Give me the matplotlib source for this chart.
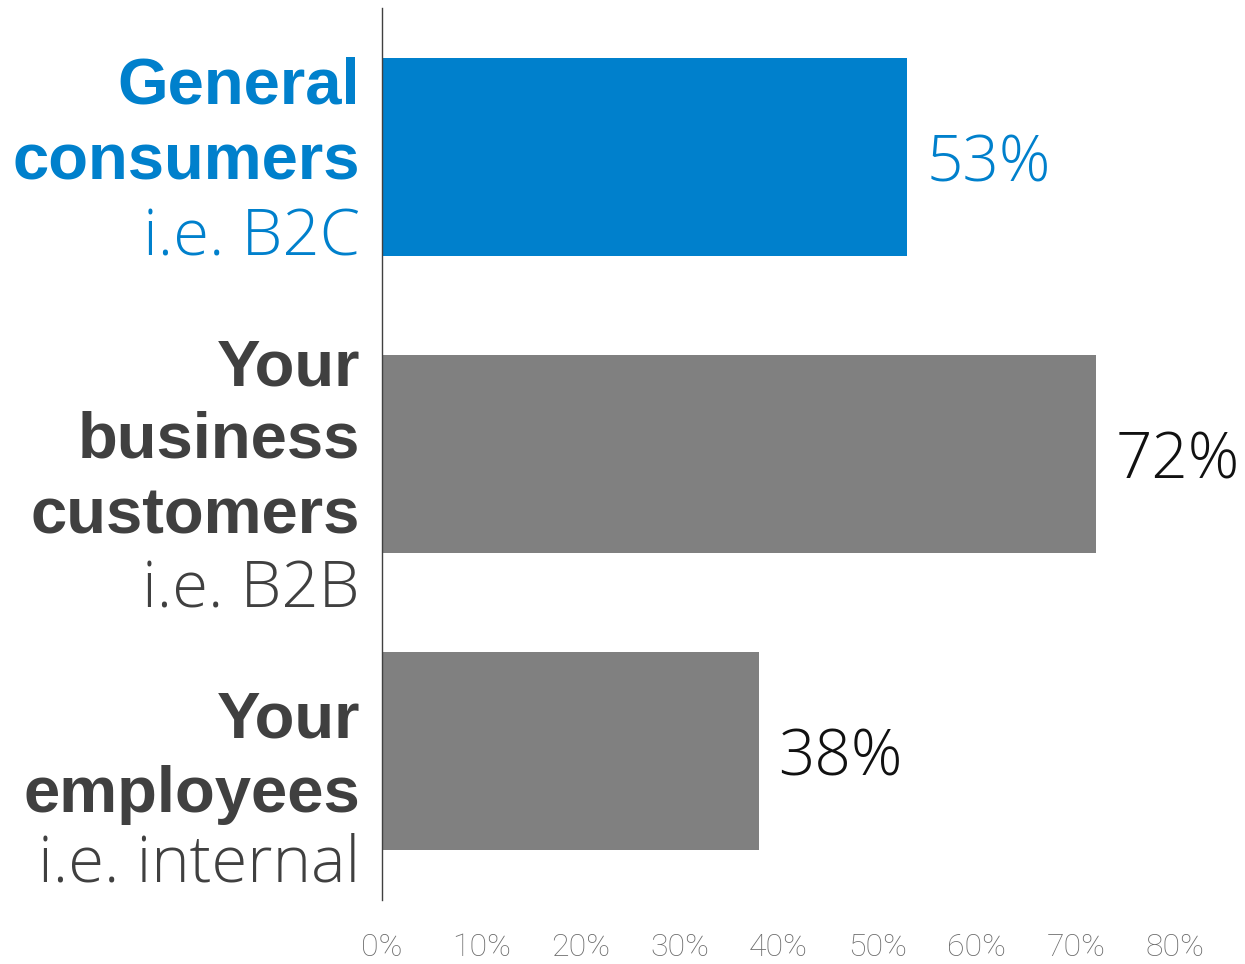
import matplotlib
matplotlib.use("Agg")
import matplotlib.pyplot as plt

# Survey shares by audience
categories = ["General consumers", "Your business customers", "Your employees"]
values = [53, 72, 38]
headings = [["General", "consumers"], ["Your", "business", "customers"], ["Your", "employees"]]
subtitles = ["i.e. B2C", "i.e. B2B", "i.e. internal"]
tick_values = [0, 10, 20, 30, 40, 50, 60, 70, 80]
tick_labels = ["0%", "10%", "20%", "30%", "40%", "50%", "60%", "70%", "80%"]

BLUE = "#0080CC"
GREY = "#808080"
DARK = "#404040"
bar_colors = [BLUE, GREY, GREY]
label_colors = [BLUE, DARK, DARK]
value_colors = [BLUE, "#111111", "#111111"]

W, H = 1245, 964
fig = plt.figure(figsize=(W / 100, H / 100), dpi=100)
ax = fig.add_axes([382 / W, 64 / H, (1175 - 382) / W, (956 - 64) / H])

pos = list(range(len(values)))
ax.barh(pos, values, height=0.667, color=bar_colors, zorder=2)
ax.set_ylim(2.5, -0.5)
ax.set_xlim(0, 80)

for s in ["top", "right", "bottom"]:
    ax.spines[s].set_visible(False)
ax.spines["left"].set_color(DARK)
ax.spines["left"].set_linewidth(1.0)

ax.set_yticks([])
ax.set_xticks(tick_values)
ax.set_xticklabels(tick_labels, fontfamily="Roboto", fontweight="light",
                   fontsize=23, color="#6c6c6c")
ax.tick_params(axis="x", length=0, pad=24)

# value labels next to each bar
for p, v, c in zip(pos, values, value_colors):
    ax.annotate(f"{v}%", xy=(v, p), xytext=(14, -17.6), textcoords="offset points",
                ha="left", va="baseline", fontsize=46, color=c,
                fontfamily="Open Sans", fontweight="light")

# multi-line category labels (baselines in pixels from the top edge)
baselines = [[103, 179, 255], [385, 458, 533, 607], [738, 812, 882]]
x_right = 360 / W
for heads, sub, col, bl in zip(headings, subtitles, label_colors, baselines):
    for line, b in zip(heads, bl[:-1]):
        fig.text(x_right, 1 - b / H, line, ha="right", va="baseline",
                 fontsize=47, fontweight="bold", fontfamily="Liberation Sans", color=col)
    fig.text(x_right, 1 - bl[-1] / H, sub, ha="right", va="baseline",
             fontsize=47, fontweight="light", fontfamily="Open Sans", color=col)

fig.savefig("out.png", dpi=100, facecolor="white")
